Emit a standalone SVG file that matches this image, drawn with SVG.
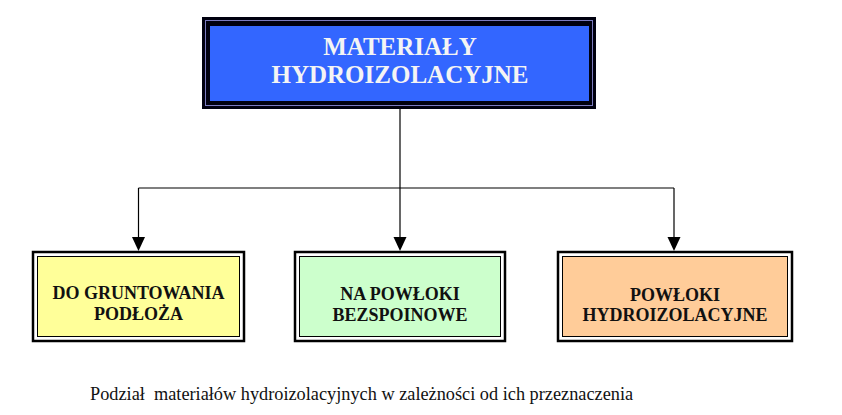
<svg xmlns="http://www.w3.org/2000/svg" width="842" height="415" viewBox="0 0 842 415">
<defs>
<style>
.title{font-family:'Liberation Serif','Times New Roman',serif;font-weight:bold;font-size:25px;fill:#F4F4F4;text-anchor:middle}
.lbl{font-family:'Liberation Serif','Times New Roman',serif;font-weight:bold;font-size:18px;fill:#111111;text-anchor:middle}
.cap{font-family:'Liberation Serif','Times New Roman',serif;font-size:18.3px;fill:#111111}
.outer{fill:none;stroke:#000;stroke-width:2.5}
.inner{stroke:#000;stroke-width:1}
.conn{fill:none;stroke:#000;stroke-width:1.2}
.arrow{fill:#000}
</style>
</defs>
<rect x="0" y="0" width="842" height="415" fill="#FFFFFF"/>
<g id="connectors">
<line class="conn" x1="400" y1="109" x2="400" y2="188"/>
<line class="conn" x1="138.5" y1="188" x2="674" y2="188"/>
<line class="conn" x1="138.5" y1="188" x2="138.5" y2="237"/>
<line class="conn" x1="400" y1="188" x2="400" y2="237"/>
<line class="conn" x1="674" y1="188" x2="674" y2="237"/>
<path class="arrow" d="M132,237 L145,237 L138.5,251 Z"/>
<path class="arrow" d="M393.5,237 L406.5,237 L400,251 Z"/>
<path class="arrow" d="M667.5,237 L680.5,237 L674,251 Z"/>
</g>
<g id="node-main">
<rect x="202" y="17" width="394" height="92" fill="#00000F"/>
<rect x="205.5" y="20.5" width="387" height="85" fill="none" stroke="#7A7ABF" stroke-width="1"/>
<rect x="210" y="26" width="379" height="75" fill="#3366FF"/>
<text class="title" x="400" y="55" font-family="Liberation Serif">MATERIAŁY</text>
<text class="title" x="400" y="83" font-family="Liberation Serif">HYDROIZOLACYJNE</text>
</g>
<g id="node-grunt">
<rect class="outer" x="33" y="252" width="211" height="89"/>
<rect class="inner" x="37.5" y="256.5" width="202" height="80" fill="#FFFF99"/>
<text class="lbl" x="138.5" y="299" font-family="Liberation Serif">DO GRUNTOWANIA</text>
<text class="lbl" x="138.5" y="320" font-family="Liberation Serif">PODŁOŻA</text>
</g>
<g id="node-bezspoinowe">
<rect class="outer" x="295" y="252" width="210" height="89"/>
<rect class="inner" x="299.5" y="256.5" width="201" height="80" fill="#CCFFCC"/>
<text class="lbl" x="400" y="300" font-family="Liberation Serif">NA POWŁOKI</text>
<text class="lbl" x="400" y="321" font-family="Liberation Serif">BEZSPOINOWE</text>
</g>
<g id="node-powloki">
<rect class="outer" x="558" y="252" width="234" height="89"/>
<rect class="inner" x="562.5" y="256.5" width="225" height="80" fill="#FFCC99"/>
<text class="lbl" x="675" y="301" font-family="Liberation Serif">POWŁOKI</text>
<text class="lbl" x="675" y="321" font-family="Liberation Serif">HYDROIZOLACYJNE</text>
</g>
<text class="cap" x="90" y="400" font-family="Liberation Serif" xml:space="preserve">Podział  materiałów hydroizolacyjnych w zależności od ich przeznaczenia</text>
</svg>
